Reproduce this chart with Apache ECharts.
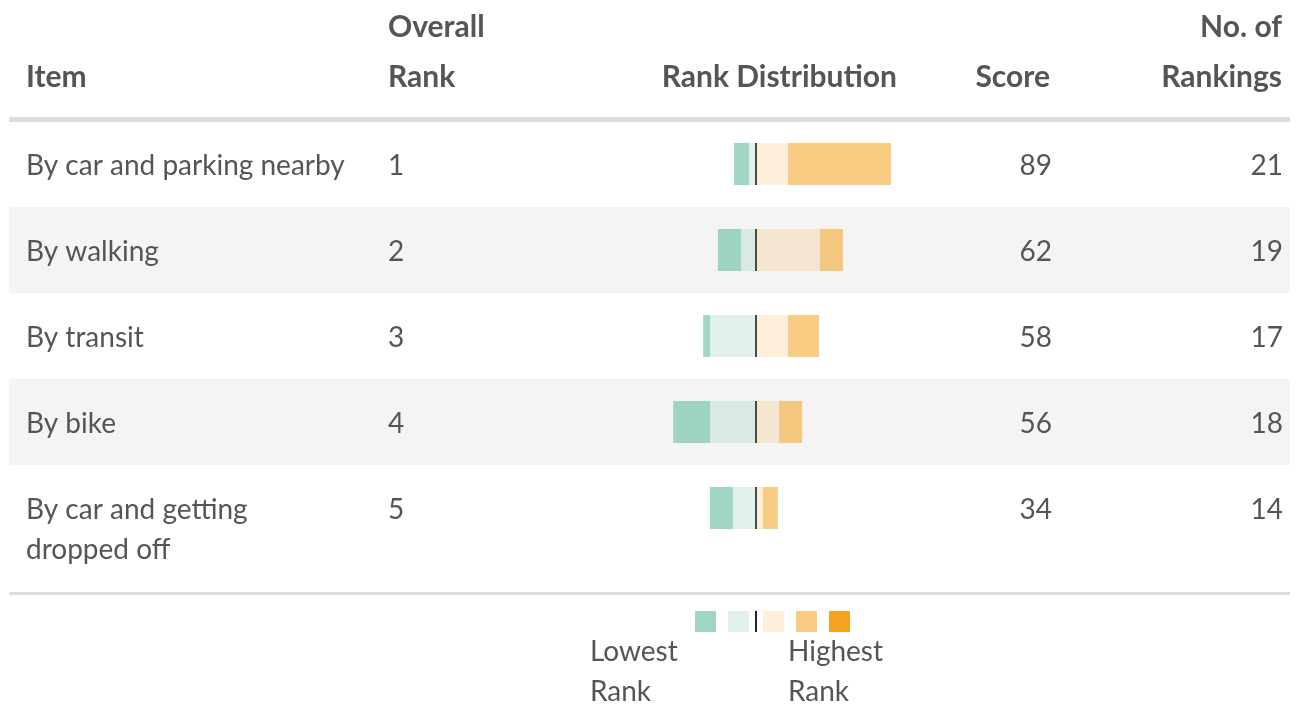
<!DOCTYPE html>
<html>
<head>
<meta charset="utf-8">
<script src="https://cdn.jsdelivr.net/npm/echarts@6/dist/echarts.min.js"></script>
<style>
  html, body { margin: 0; background: #fff; }
  #chart { width: 1299px; height: 709px; }
</style>
</head>
<body>
<div id="chart"></div>
<script>
const items = ["By car and parking nearby", "By walking", "By transit", "By bike", "By car and getting\ndropped off"];
const overallRank = ["1", "2", "3", "4", "5"];
const scores = ["89", "62", "58", "56", "34"];
const rankings = ["21", "19", "17", "18", "14"];

// rank distribution, lowest rank (left of the centre line) to highest
const rank5 = [5, 7.7, 2.3, 12.3, 7.7];
const rank4 = [2.3, 5, 15.3, 15.3, 7.7];
const rank3 = [10.7, 21.3, 10.7, 7.7, 2.3];
const rank2 = [34.3, 7.7, 10.3, 7.7, 5];
const rank1 = [0, 0, 0, 0, 0];

const GREEN = "136,204,180";
const ORANGE = "244,162,31";
const colors = {
  rank5: `rgba(${GREEN},0.8)`,
  rank4: `rgba(${GREEN},0.25)`,
  rank3: `rgba(${ORANGE},0.17)`,
  rank2: `rgba(${ORANGE},0.55)`,
  rank1: `rgba(${ORANGE},1)`,
};

const TEXT = "#555555";
const bodyFont = "Lato";

const chart = echarts.init(document.getElementById("chart"));

function textAxis(data, position, margin, align) {
  return {
    type: "category",
    gridIndex: 1,
    inverse: true,
    position: position,
    data: data,
    axisLine: { show: false, onZero: false },
    axisTick: { show: false },
    splitLine: { show: false },
    axisLabel: {
      interval: 0,
      margin: margin,
      align: align,
      verticalAlign: "top",
      lineHeight: 40,
      color: TEXT,
      fontFamily: bodyFont,
      fontSize: 28,
    },
  };
}

function barSeries(name, values, color, sign) {
  return {
    name: name,
    type: "bar",
    stack: "rank",
    xAxisIndex: 0,
    yAxisIndex: 0,
    barWidth: 42,
    data: values.map((v) => v * sign),
    itemStyle: { color: color },
    silent: true,
  };
}

function headerText(text, x, y, align) {
  return {
    type: "text",
    x: x,
    y: y,
    style: {
      text: text,
      fill: TEXT,
      font: "bold 30px Lato",
      align: align,
      verticalAlign: "middle",
    },
  };
}

function legendText(text, x, y) {
  return {
    type: "text",
    x: x,
    y: y,
    style: { text: text, fill: TEXT, font: "28px Lato", align: "left", verticalAlign: "middle" },
  };
}

function legendBox(x, w, color) {
  return { type: "rect", shape: { x: x, y: 611, width: w, height: 21 }, style: { fill: color } };
}

chart.setOption({
  animation: false,
  grid: [
    { left: 9, right: 9, top: 121, height: 430 },
    { left: 9, right: 9, top: 103, height: 430 },
  ],
  xAxis: [
    { type: "value", gridIndex: 0, min: -249, max: 178, show: false },
    { type: "value", gridIndex: 1, min: 0, max: 1, show: false },
  ],
  yAxis: [
    {
      type: "category",
      gridIndex: 0,
      inverse: true,
      data: items,
      axisLine: { show: false, onZero: false },
      axisTick: { show: false },
      axisLabel: { show: false },
      splitLine: { show: false },
      splitArea: { show: true, areaStyle: { color: ["rgba(0,0,0,0)", "#f4f4f4"] } },
    },
    textAxis(items, "left", -17, "left"),
    textAxis(overallRank, "left", -379, "left"),
    textAxis(scores, "right", -238, "right"),
    textAxis(rankings, "right", -7, "right"),
  ],
  series: [
    barSeries("Rank 4", rank4, colors.rank4, -1),
    barSeries("Rank 5 (lowest)", rank5, colors.rank5, -1),
    barSeries("Rank 3", rank3, colors.rank3, 1),
    barSeries("Rank 2", rank2, colors.rank2, 1),
    barSeries("Rank 1 (highest)", rank1, colors.rank1, 1),
    {
      name: "centre",
      type: "scatter",
      xAxisIndex: 0,
      yAxisIndex: 0,
      symbol: "rect",
      symbolSize: [2, 42],
      z: 5,
      silent: true,
      itemStyle: { color: "#222222" },
      data: items.map((_, i) => [0, i]),
    },
  ],
  graphic: [
    headerText("Item", 26, 77, "left"),
    headerText("Overall", 388, 27, "left"),
    headerText("Rank", 388, 77, "left"),
    headerText("Rank Distribution", 897, 77, "right"),
    headerText("Score", 1050, 77, "right"),
    headerText("No. of", 1282, 27, "right"),
    headerText("Rankings", 1282, 77, "right"),
    { type: "rect", shape: { x: 9, y: 117, width: 1281, height: 5 }, style: { fill: "#dddddd" } },
    { type: "rect", shape: { x: 9, y: 592, width: 1281, height: 3 }, style: { fill: "#dddddd" } },
    legendBox(695, 21, colors.rank5),
    legendBox(728, 21, colors.rank4),
    legendBox(755, 2, "#222222"),
    legendBox(763, 21, colors.rank3),
    legendBox(796, 21, colors.rank2),
    legendBox(829, 21, colors.rank1),
    legendText("Lowest", 590, 652),
    legendText("Rank", 590, 692),
    legendText("Highest", 788, 652),
    legendText("Rank", 788, 692),
  ],
});
</script>
</body>
</html>
